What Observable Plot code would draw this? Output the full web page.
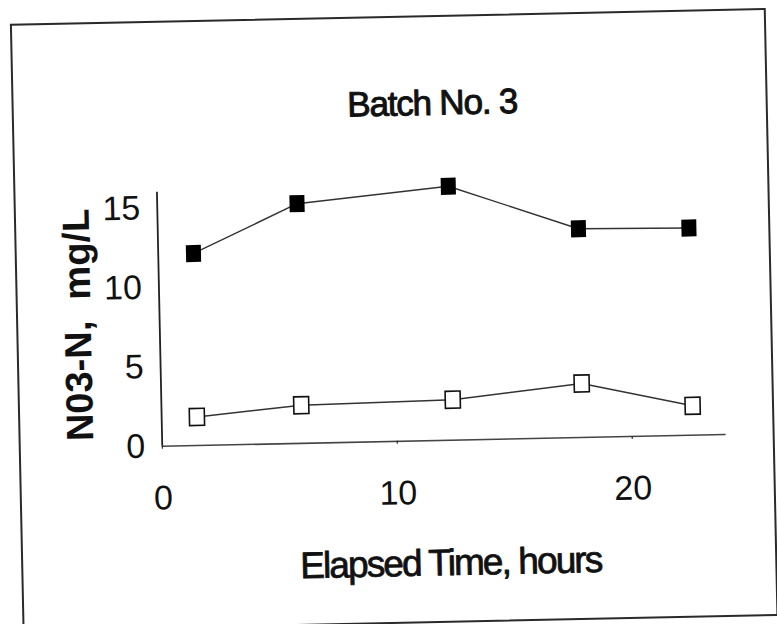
<!DOCTYPE html>
<html><head><meta charset="utf-8">
<script src="https://cdn.jsdelivr.net/npm/d3@7"></script>
<script src="https://cdn.jsdelivr.net/npm/@observablehq/plot@0.6"></script>
<style>
html,body{margin:0;padding:0;background:#fff;overflow:hidden}
#wrap{position:relative;width:777px;height:624px;transform:rotate(-1.2deg);transform-origin:388.5px 312px}
#border{position:absolute;left:16px;top:16px;width:752px;height:604px;border:2.5px solid #2a2a2a}
#chart{position:absolute;left:0;top:0}
</style></head><body>
<div id="wrap"><div id="border"></div><div id="chart"></div></div>
<script>
// data
const hours = [1.5, 5.95, 12.4, 17.9, 22.6];
const filledSeries = [12.1, 15.1, 16.0, 13.15, 13.05];
const openSeries = [1.8, 2.4, 2.55, 3.4, 1.85];
const xTicks = [0, 10, 20];
const yTicks = [0, 5, 10, 15];
const chartTitle = "Batch No. 3";
const xTitle = "Elapsed Time, hours";
const yTitle = "N03-N,  mg/L";

const filled = hours.map((h, i) => ({h, v: filledSeries[i]}));
const open = hours.map((h, i) => ({h, v: openSeries[i]}));
const rectSym = {draw(ctx) { ctx.rect(-7.5, -8.5, 15, 17); }};
const font = '"Liberation Sans", Arial, sans-serif';

const plot = Plot.plot({
  width: 777, height: 624,
  marginLeft: 159, marginRight: 54, marginTop: 187, marginBottom: 183,
  style: {fontFamily: font, background: "transparent", color: "#111", overflow: "visible"},
  x: {domain: [0, 24]},
  y: {domain: [0, 16]},
  marks: [
    Plot.ruleY([0], {stroke: "#444", strokeWidth: 1.6}),
    Plot.ruleX([0], {stroke: "#222", strokeWidth: 1.8}),
    Plot.axisX({ticks: xTicks, tickSize: 3, tickPadding: 36, fontSize: 34, label: null, tickFormat: d => String(d)}),
    Plot.axisY({ticks: yTicks, tickSize: 0, tickPadding: 17, fontSize: 34, label: null, tickFormat: d => String(d)}),
    Plot.line(filled, {x: "h", y: "v", stroke: "#333", strokeWidth: 1.4}),
    Plot.line(open, {x: "h", y: "v", stroke: "#333", strokeWidth: 1.4}),
    Plot.dot(filled, {x: "h", y: "v", symbol: rectSym, fill: "#000", stroke: "none", r: 8}),
    Plot.dot(open, {x: "h", y: "v", symbol: rectSym, fill: "#fff", stroke: "#111", strokeWidth: 1.6, r: 8}),
    Plot.text([chartTitle], {frameAnchor: "top", textAnchor: "middle", dx: -5, dy: -83, lineAnchor: "middle", fontSize: 35, fill: "#111", stroke: "#111", strokeWidth: 1}),
    Plot.text([xTitle], {frameAnchor: "bottom", textAnchor: "middle", dx: 4, dy: 123, lineAnchor: "middle", fontSize: 37, fill: "#111", stroke: "#111", strokeWidth: 0.8}),
    Plot.text([yTitle], {frameAnchor: "left", textAnchor: "middle", dx: -81, dy: 4, rotate: -90, lineAnchor: "middle", fontSize: 38, fontWeight: "bold", fill: "#111"})
  ]
});
const svg = d3.select(plot);
svg.selectAll("text").filter(function() { return this.textContent === chartTitle; }).style("letter-spacing", "-1.2px");
svg.selectAll("text").filter(function() { return this.textContent === xTitle; }).style("letter-spacing", "-1.9px");
svg.selectAll("text").filter(function() { return this.textContent === yTitle; }).style("white-space", "pre");
document.getElementById("chart").appendChild(plot);
</script>
</body></html>
